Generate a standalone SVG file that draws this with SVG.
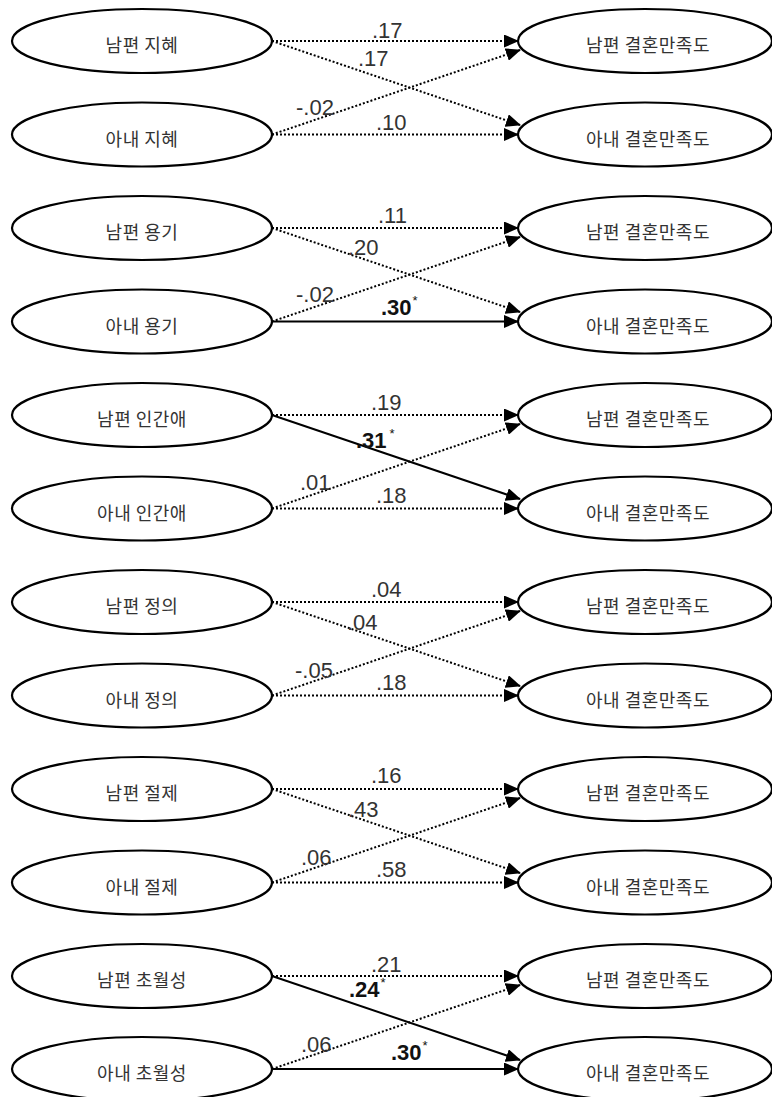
<svg xmlns="http://www.w3.org/2000/svg" width="772" height="1097" viewBox="0 0 772 1097">
<style>
.n ellipse{fill:#fff;stroke:#000;stroke-width:2.2}
.n text{font-family:"Noto Sans CJK KR","Noto Sans",sans-serif;font-size:18px;letter-spacing:0.5px;fill:#333;text-anchor:middle}
.d{stroke:#000;stroke-width:2;stroke-dasharray:2 2;fill:none;marker-end:url(#ah)}
.s{stroke:#000;stroke-width:2;fill:none;marker-end:url(#ah)}
.l{font-family:"Liberation Sans",Arial,sans-serif;font-size:22px;fill:#333}
.b{font-family:"Liberation Sans",Arial,sans-serif;font-size:22px;font-weight:bold;fill:#111}
.st{font-size:13px;font-weight:normal}
</style>
<defs>
<marker id="ah" markerUnits="userSpaceOnUse" markerWidth="15" markerHeight="13" refX="14" refY="6.5" orient="auto">
<path d="M0,0 L15,6.5 L0,13 z" fill="#000"/>
</marker>
</defs>

<g id="connectors">
<line class="d" x1="272" y1="41" x2="518" y2="41"/>
<line class="d" x1="272" y1="41" x2="520" y2="125"/>
<line class="d" x1="272" y1="134.5" x2="520" y2="50"/>
<line class="d" x1="272" y1="134.5" x2="518" y2="134.5"/>

<line class="d" x1="272" y1="228" x2="518" y2="228"/>
<line class="d" x1="272" y1="228" x2="520" y2="312"/>
<line class="d" x1="272" y1="321.5" x2="520" y2="237"/>
<line class="s" x1="272" y1="321.5" x2="518" y2="321.5"/>

<line class="d" x1="272" y1="415" x2="518" y2="415"/>
<line class="s" x1="272" y1="415" x2="520" y2="499"/>
<line class="d" x1="272" y1="508.5" x2="520" y2="424"/>
<line class="d" x1="272" y1="508.5" x2="518" y2="508.5"/>

<line class="d" x1="272" y1="602" x2="518" y2="602"/>
<line class="d" x1="272" y1="602" x2="520" y2="686"/>
<line class="d" x1="272" y1="695.5" x2="520" y2="611"/>
<line class="d" x1="272" y1="695.5" x2="518" y2="695.5"/>

<line class="d" x1="272" y1="789" x2="518" y2="789"/>
<line class="d" x1="272" y1="789" x2="520" y2="873"/>
<line class="d" x1="272" y1="882.5" x2="520" y2="798"/>
<line class="d" x1="272" y1="882.5" x2="518" y2="882.5"/>

<line class="d" x1="272" y1="976" x2="518" y2="976"/>
<line class="s" x1="272" y1="976" x2="520" y2="1060"/>
<line class="d" x1="272" y1="1069" x2="520" y2="985"/>
<line class="s" x1="272" y1="1069" x2="518" y2="1069"/>

<text class="l" x="372" y="38">.17</text>
<text class="l" x="358" y="66">.17</text>
<text class="l" x="296" y="115">-.02</text>
<text class="l" x="376" y="130">.10</text>

<text class="l" x="378" y="223">.11</text>
<text class="l" x="348" y="255">.20</text>
<text class="l" x="296" y="302">-.02</text>
<text class="b" x="381" y="315">.30<tspan class="st" dx="1" dy="-10">*</tspan></text>

<text class="l" x="371" y="410">.19</text>
<text class="b" x="356" y="448">.31<tspan class="st" dx="3" dy="-10">*</tspan></text>
<text class="l" x="300" y="490">.01</text>
<text class="l" x="376" y="503">.18</text>

<text class="l" x="371" y="597">.04</text>
<text class="l" x="347" y="630">.04</text>
<text class="l" x="295" y="678">-.05</text>
<text class="l" x="376" y="690">.18</text>

<text class="l" x="371" y="783">.16</text>
<text class="l" x="348" y="817">.43</text>
<text class="l" x="301" y="865">.06</text>
<text class="l" x="376" y="877">.58</text>

<text class="l" x="371" y="972">.21</text>
<text class="b" x="349" y="997">.24<tspan class="st" dx="1" dy="-10">*</tspan></text>
<text class="l" x="301" y="1052">.06</text>
<text class="b" x="391" y="1060">.30<tspan class="st" dx="1" dy="-10">*</tspan></text>
</g>

<g id="h-wisdom" class="n"><ellipse cx="142" cy="41" rx="130" ry="32"/><text x="142" y="52">남편 지혜</text></g>
<g id="w-wisdom" class="n"><ellipse cx="142" cy="134.5" rx="130" ry="32"/><text x="142" y="145.5">아내 지혜</text></g>
<g id="h-sat-1" class="n"><ellipse cx="645" cy="41" rx="127" ry="32"/><text x="648" y="52">남편 결혼만족도</text></g>
<g id="w-sat-1" class="n"><ellipse cx="645" cy="134.5" rx="127" ry="32"/><text x="648" y="145.5">아내 결혼만족도</text></g>

<g id="h-courage" class="n"><ellipse cx="142" cy="228" rx="130" ry="32"/><text x="142" y="239">남편 용기</text></g>
<g id="w-courage" class="n"><ellipse cx="142" cy="321.5" rx="130" ry="32"/><text x="142" y="332.5">아내 용기</text></g>
<g id="h-sat-2" class="n"><ellipse cx="645" cy="228" rx="127" ry="32"/><text x="648" y="239">남편 결혼만족도</text></g>
<g id="w-sat-2" class="n"><ellipse cx="645" cy="321.5" rx="127" ry="32"/><text x="648" y="332.5">아내 결혼만족도</text></g>

<g id="h-humanity" class="n"><ellipse cx="142" cy="415" rx="130" ry="32"/><text x="142" y="426">남편 인간애</text></g>
<g id="w-humanity" class="n"><ellipse cx="142" cy="508.5" rx="130" ry="32"/><text x="142" y="519.5">아내 인간애</text></g>
<g id="h-sat-3" class="n"><ellipse cx="645" cy="415" rx="127" ry="32"/><text x="648" y="426">남편 결혼만족도</text></g>
<g id="w-sat-3" class="n"><ellipse cx="645" cy="508.5" rx="127" ry="32"/><text x="648" y="519.5">아내 결혼만족도</text></g>

<g id="h-justice" class="n"><ellipse cx="142" cy="602" rx="130" ry="32"/><text x="142" y="613">남편 정의</text></g>
<g id="w-justice" class="n"><ellipse cx="142" cy="695.5" rx="130" ry="32"/><text x="142" y="706.5">아내 정의</text></g>
<g id="h-sat-4" class="n"><ellipse cx="645" cy="602" rx="127" ry="32"/><text x="648" y="613">남편 결혼만족도</text></g>
<g id="w-sat-4" class="n"><ellipse cx="645" cy="695.5" rx="127" ry="32"/><text x="648" y="706.5">아내 결혼만족도</text></g>

<g id="h-temperance" class="n"><ellipse cx="142" cy="789" rx="130" ry="32"/><text x="142" y="800">남편 절제</text></g>
<g id="w-temperance" class="n"><ellipse cx="142" cy="882.5" rx="130" ry="32"/><text x="142" y="893.5">아내 절제</text></g>
<g id="h-sat-5" class="n"><ellipse cx="645" cy="789" rx="127" ry="32"/><text x="648" y="800">남편 결혼만족도</text></g>
<g id="w-sat-5" class="n"><ellipse cx="645" cy="882.5" rx="127" ry="32"/><text x="648" y="893.5">아내 결혼만족도</text></g>

<g id="h-transcendence" class="n"><ellipse cx="142" cy="976" rx="130" ry="32"/><text x="142" y="987">남편 초월성</text></g>
<g id="w-transcendence" class="n"><ellipse cx="142" cy="1069" rx="130" ry="32"/><text x="142" y="1080">아내 초월성</text></g>
<g id="h-sat-6" class="n"><ellipse cx="645" cy="976" rx="127" ry="32"/><text x="648" y="987">남편 결혼만족도</text></g>
<g id="w-sat-6" class="n"><ellipse cx="645" cy="1069" rx="127" ry="32"/><text x="648" y="1080">아내 결혼만족도</text></g>
</svg>
